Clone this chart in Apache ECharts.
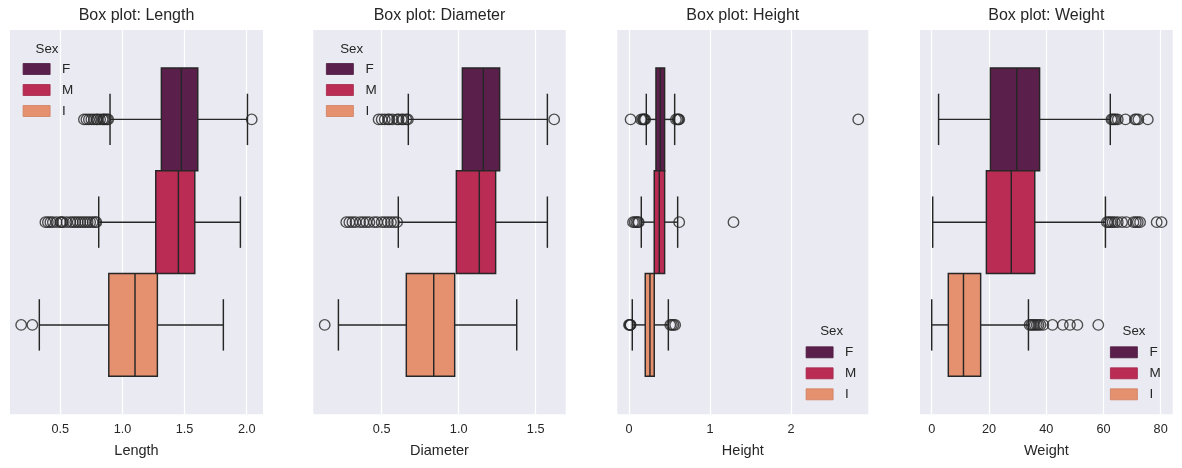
<!DOCTYPE html>
<html>
<head>
<meta charset="utf-8">
<script src="https://cdn.jsdelivr.net/npm/echarts@6/dist/echarts.min.js"></script>
<style>
html,body{margin:0;padding:0;background:#fff;}
#chart{width:1182px;height:468px;}
</style>
</head>
<body>
<div id="chart"></div>
<script>
// ---------- data ----------
const sexes = ['F', 'M', 'I'];

// [whiskerLow, Q1, median, Q3, whiskerHigh] for F, M, I
const lengthStats = [[0.900, 1.313, 1.474, 1.606, 2.006], [0.809, 1.268, 1.450, 1.582, 1.949], [0.331, 0.890, 1.101, 1.281, 1.812]];
const lengthOutliers = [
  [0.69, 0.71, 0.73, 0.75, 0.77, 0.79, 0.80, 0.82, 0.84, 0.85, 0.86, 0.875, 0.885, 2.04],
  [0.38, 0.40, 0.42, 0.44, 0.47, 0.50, 0.51, 0.52, 0.55, 0.58, 0.60, 0.62, 0.64, 0.66, 0.68, 0.70, 0.72, 0.74, 0.76, 0.78, 0.79],
  [0.185, 0.275]
];
const lengthTicks = [0.5, 1.0, 1.5, 2.0];

const diameterStats = [[0.673, 1.024, 1.160, 1.266, 1.576], [0.608, 0.985, 1.134, 1.240, 1.576], [0.219, 0.660, 0.838, 0.974, 1.377]];
const diameterOutliers = [
  [0.48, 0.50, 0.52, 0.54, 0.55, 0.57, 0.60, 0.61, 0.63, 0.64, 0.66, 0.67, 1.62],
  [0.27, 0.29, 0.31, 0.33, 0.36, 0.38, 0.40, 0.42, 0.45, 0.47, 0.50, 0.52, 0.54, 0.56, 0.58, 0.60],
  [0.13]
];
const diameterTicks = [0.5, 1.0, 1.5];

const heightStats = [[0.214, 0.333, 0.387, 0.440, 0.564], [0.152, 0.312, 0.374, 0.440, 0.601], [0.041, 0.201, 0.259, 0.312, 0.486]];
const heightOutliers = [
  [0.02, 0.15, 0.17, 0.18, 0.19, 0.20, 0.58, 0.60, 0.61, 0.62, 2.83],
  [0.05, 0.07, 0.09, 0.11, 0.12, 0.62, 1.29],
  [0.0, 0.01, 0.015, 0.02, 0.51, 0.53, 0.55, 0.57]
];
const heightTicks = [0, 1, 2];

const weightStats = [[2.4, 20.5, 29.7, 37.7, 62.4], [0.35, 19.1, 27.8, 36.0, 60.7], [0.0, 5.8, 11.1, 17.1, 33.8]];
const weightOutliers = [
  [62.8, 63.3, 63.8, 64.3, 65.0, 67.7, 71.0, 71.5, 72.2, 75.5],
  [61.2, 61.8, 62.5, 63.2, 64.0, 65.0, 66.5, 68.0, 70.5, 71.3, 72.0, 72.8, 78.6, 80.3],
  [34.2, 34.8, 35.4, 36.0, 36.7, 37.3, 38.0, 39.0, 42.2, 45.8, 48.3, 50.9, 58.2]
];
const weightTicks = [0, 20, 40, 60, 80];

// ---------- style / layout ----------
const FONT = "'Liberation Sans', Arial, sans-serif";
const TXT = '#262626';
const LINE = '#262626';
const sexColors = ['#5B1F4B', '#BB2C55', '#E5916F'];
const sexBorders = ['#4E1A40', '#A52649', '#CF7E60'];

const panels = [
  {title: 'Box plot: Length', name: 'Length', stats: lengthStats, out: lengthOutliers, ticks: lengthTicks, dec: 1,
   min: 0.095, max: 2.131, left: 10, width: 253, legLeft: 22.7, legTop: 62, sexX: 47, sexY: 49},
  {title: 'Box plot: Diameter', name: 'Diameter', stats: diameterStats, out: diameterOutliers, ticks: diameterTicks, dec: 1,
   min: 0.056, max: 1.695, left: 313.3, width: 252.4, legLeft: 326, legTop: 62, sexX: 351.7, sexY: 49},
  {title: 'Box plot: Height', name: 'Height', stats: heightStats, out: heightOutliers, ticks: heightTicks, dec: 0,
   min: -0.144, max: 2.954, left: 617.3, width: 251, legLeft: 805.7, legTop: 345.3, sexX: 831.7, sexY: 331.7},
  {title: 'Box plot: Weight', name: 'Weight', stats: weightStats, out: weightOutliers, ticks: weightTicks, dec: 0,
   min: -4.09, max: 84.2, left: 920, width: 252.7, legLeft: 1110, legTop: 345.3, sexX: 1134, sexY: 331.7}
];
const TOP = 30, HEIGHT = 384.3;

function makeRender(color) {
  return function (params, api) {
    const g = api.value(0), lo = api.value(1), q1 = api.value(2), md = api.value(3), q3 = api.value(4), hi = api.value(5);
    const c = (x, dy) => api.coord([x, g + dy]);
    const a = c(q1, -0.5), b = c(q3, 0.5);
    const ls = {stroke: LINE, lineWidth: 1.45};
    const ln = (p, q) => ({type: 'line', shape: {x1: p[0], y1: p[1], x2: q[0], y2: q[1]}, style: ls});
    return {
      type: 'group',
      children: [
        ln(c(lo, 0), c(q1, 0)),
        ln(c(q3, 0), c(hi, 0)),
        ln(c(lo, -0.25), c(lo, 0.25)),
        ln(c(hi, -0.25), c(hi, 0.25)),
        {type: 'rect', shape: {x: a[0], y: Math.min(a[1], b[1]), width: b[0] - a[0], height: Math.abs(b[1] - a[1])},
         style: {fill: color, stroke: LINE, lineWidth: 1.45}},
        ln(c(md, -0.5), c(md, 0.5))
      ]
    };
  };
}

const grid = [], xAxis = [], yAxis = [], series = [], legend = [], graphic = [];
panels.forEach((p, i) => {
  grid.push({left: p.left, top: TOP, width: p.width, height: HEIGHT, show: true, backgroundColor: '#EAEAF2', borderWidth: 0, containLabel: false});
  xAxis.push({
    gridIndex: i, type: 'value', min: p.min, max: p.max,
    name: p.name, nameLocation: 'middle', nameGap: 29,
    nameTextStyle: {fontSize: 14.5, color: TXT, fontFamily: FONT},
    axisLine: {show: false},
    axisTick: {show: false, customValues: p.ticks},
    axisLabel: {customValues: p.ticks, formatter: v => Number(v).toFixed(p.dec), fontSize: 12.7, color: TXT, fontFamily: FONT, margin: 9},
    splitLine: {show: true, lineStyle: {color: '#ffffff', width: 1.2}}
  });
  yAxis.push({gridIndex: i, type: 'value', min: -0.87, max: 2.87, inverse: true, show: false, splitLine: {show: false}});
  sexes.forEach((s, g) => {
    series.push({
      type: 'custom', name: s, xAxisIndex: i, yAxisIndex: i,
      data: [[g].concat(p.stats[g])],
      encode: {x: [1, 2, 3, 4, 5], y: 0},
      renderItem: makeRender(sexColors[g]),
      itemStyle: {color: sexColors[g]},
      silent: true, z: 2
    });
  });
  const pts = [];
  p.out.forEach((arr, g) => arr.forEach(v => pts.push([v, g])));
  series.push({
    type: 'scatter', name: 'outliers' + i, xAxisIndex: i, yAxisIndex: i, data: pts,
    symbol: 'circle', symbolSize: 10.5,
    itemStyle: {color: 'rgba(0,0,0,0)', borderColor: LINE, borderWidth: 1.35},
    silent: true, z: 3
  });
  legend.push({
    orient: 'vertical', left: p.legLeft, top: p.legTop, padding: 0,
    itemWidth: 27, itemHeight: 11, itemGap: 7, icon: 'rect', selectedMode: false,
    data: sexes.map((s, g) => ({name: s, itemStyle: {color: sexColors[g], borderColor: sexBorders[g], borderWidth: 0.8}})),
    textStyle: {fontSize: 13.5, lineHeight: 14, color: TXT, fontFamily: FONT, padding: [0, 0, 0, 7]}
  });
  graphic.push({type: 'text', x: p.left + p.width / 2, y: 16,
    style: {text: p.title, align: 'center', verticalAlign: 'middle', fontSize: 16, fontFamily: FONT, fill: TXT}});
  graphic.push({type: 'text', x: p.sexX, y: p.sexY,
    style: {text: 'Sex', align: 'center', verticalAlign: 'middle', fontSize: 13.3, fontFamily: FONT, fill: TXT}});
});

const chart = echarts.init(document.getElementById('chart'), null, {renderer: 'canvas'});
chart.setOption({
  animation: false,
  backgroundColor: '#ffffff',
  textStyle: {fontFamily: FONT},
  grid, xAxis, yAxis, series, legend, graphic
});
</script>
</body>
</html>
